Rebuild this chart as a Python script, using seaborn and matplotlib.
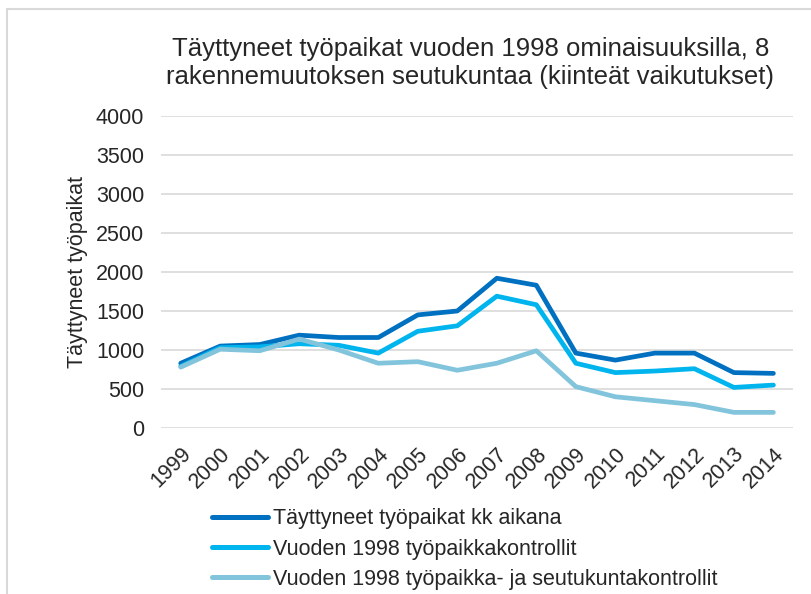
import matplotlib
matplotlib.use("Agg")
import matplotlib.pyplot as plt
import seaborn as sns
import pandas as pd
from matplotlib.lines import Line2D

years = list(range(1999, 2015))
filled_jobs = [830, 1050, 1070, 1190, 1160, 1160, 1450, 1500, 1920, 1830, 960, 870, 960, 960, 710, 700]
job_controls = [790, 1030, 1040, 1080, 1060, 960, 1240, 1310, 1690, 1580, 830, 710, 730, 760, 520, 550]
job_region_controls = [780, 1010, 990, 1140, 1000, 830, 850, 740, 830, 990, 530, 400, 350, 300, 200, 200]

series_names = [
    "Täyttyneet työpaikat kk aikana",
    "Vuoden 1998 työpaikkakontrollit",
    "Vuoden 1998 työpaikka- ja seutukuntakontrollit",
]
colors = ["#0070C0", "#00B4EE", "#82C4DC"]
yticks = [0, 500, 1000, 1500, 2000, 2500, 3000, 3500, 4000]

title = "Täyttyneet työpaikat vuoden 1998 ominaisuuksilla, 8\nrakennemuutoksen seutukuntaa (kiinteät vaikutukset)"
ylabel = "Täyttyneet työpaikat"

df = pd.DataFrame({
    "vuosi": years * 3,
    "arvo": filled_jobs + job_controls + job_region_controls,
    "sarja": [s for s in series_names for _ in years],
})

sns.set_theme(style="white")
plt.rcParams["font.family"] = ["Liberation Sans", "DejaVu Sans"]

fs = 15.5

fig = plt.figure(figsize=(8.11, 5.94), dpi=100)
ax = fig.add_axes([0.1985, 0.2795, 0.7795, 0.5252])

sns.lineplot(data=df, x="vuosi", y="arvo", hue="sarja", hue_order=series_names,
             palette=colors, linewidth=3.4, ax=ax, legend=False, sort=False,
             solid_capstyle="round", solid_joinstyle="round")

ax.set_xlim(1998.5, 2014.5)
ax.set_ylim(0, 4000)
ax.set_yticks(yticks)
ax.set_yticklabels([str(v) for v in yticks], fontsize=fs)
ax.set_xticks(years)
ax.set_xticklabels([str(y) for y in years], fontsize=fs, rotation=45,
                   ha="right", va="top", rotation_mode="anchor")
ax.tick_params(axis="x", pad=11, length=0)
ax.tick_params(axis="y", pad=12, length=0)
ax.grid(axis="y", color="#D9D9D9", linewidth=1.2)
ax.set_axisbelow(True)
for sp in ax.spines.values():
    sp.set_visible(False)
ax.set_xlabel("")
ax.set_ylabel(ylabel, fontsize=fs, labelpad=6)

fig.text(0.58, 0.894, title, ha="center", va="center", fontsize=18.5, linespacing=1.2)

handles = [Line2D([0], [0], color=c, linewidth=3.6, solid_capstyle="round") for c in colors]
fig.legend(handles, series_names, loc="upper left", bbox_to_anchor=(0.262, 0.144),
           frameon=False, fontsize=fs, handlelength=2.6, handletextpad=0.2,
           labelspacing=0.42, borderpad=0, borderaxespad=0)

# chart frame edges
fig.add_artist(Line2D([0.0086, 0.0086], [0, 0.985], color="#D9D9D9", linewidth=1.5,
                      transform=fig.transFigure))
fig.add_artist(Line2D([0.0086, 1.0], [0.985, 0.985], color="#D9D9D9", linewidth=1.5,
                      transform=fig.transFigure))

fig.savefig("out.png", dpi=100, facecolor="white")
